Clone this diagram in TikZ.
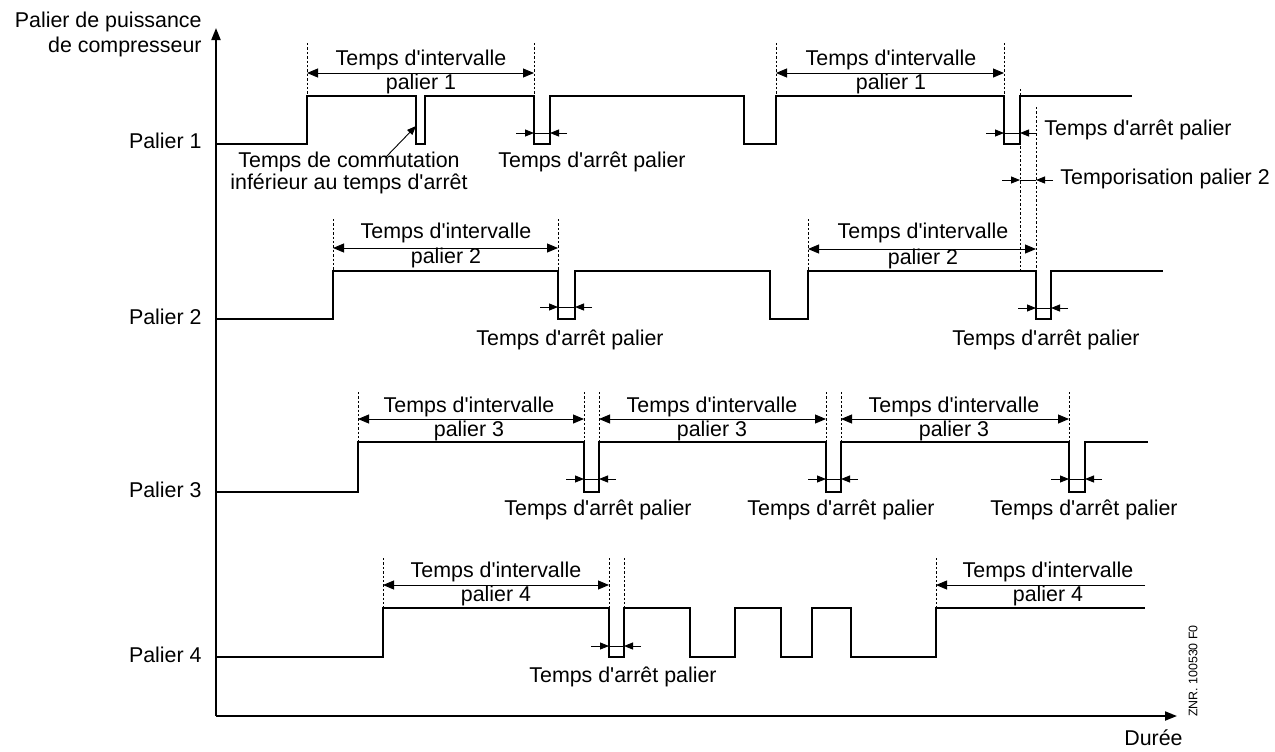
\documentclass[tikz,border=0pt]{standalone}
\usepackage{fontspec}
\setmainfont{Liberation Sans}
\usetikzlibrary{arrows.meta}
\newcommand\ap{\textquotesingle}
\newcommand\offmark[3]{%
  \draw[thin line] (#1,#3) -- (#2,#3);
  \draw[tipsm] ({#1-18},#3) -- (#1,#3);
  \draw[tipsm] ({#2+17},#3) -- (#2,#3);}
\begin{document}
\begin{tikzpicture}[x=0.5pt,y=-0.5pt,
  sig/.style={line width=1.1pt, line join=miter},
  axisln/.style={line width=1pt, -{Triangle[length=6pt,width=4.5pt]}},
  guide/.style={line width=0.3pt, dash pattern=on 1.2pt off 1pt},
  thin line/.style={line width=0.45pt},
  dim/.style={line width=0.45pt, {Triangle[length=5.5pt,width=4.5pt]}-{Triangle[length=5.5pt,width=4.5pt]}},
  dimone/.style={line width=0.45pt, -{Triangle[length=5.5pt,width=4.5pt]}},
  tipsm/.style={line width=0.45pt, -{Triangle[length=4.5pt,width=3.5pt]}},
  lbl/.style={font=\fontsize{10.7}{12.5}\selectfont, inner sep=0pt, align=center},
]
\fill[white] (0,0) rectangle (1275,751);
\path[use as bounding box] (0,0) rectangle (1275,751);

% axes
\coordinate (O) at (216,716);
\coordinate (ytop) at (216,28);
\coordinate (xend) at (1177,716);
\draw[axisln] (O) -- (ytop);
\draw[axisln] (O) -- (xend);
\node[lbl, align=right, anchor=east] (ylab) at (202,34) {Palier de puissance\\de compresseur};
\node[lbl, anchor=east] (xlab) at (1183,738) {Durée};
\node[font=\fontsize{6.2}{7}\selectfont, inner sep=0pt, rotate=90] (znr) at (1193,671) {ZNR. 100530 F0};

% level labels
\node[lbl, anchor=east] (p1) at (202,141) {Palier 1};
\node[lbl, anchor=east] (p2) at (202,317) {Palier 2};
\node[lbl, anchor=east] (p3) at (202,490) {Palier 3};
\node[lbl, anchor=east] (p4) at (202,655) {Palier 4};

% signals
\draw[sig] (216,144) -- (307,144) -- (307,96) -- (416,96) -- (416,144) -- (425,144) -- (425,96)
  -- (534,96) -- (534,144) -- (550,144) -- (550,96) -- (744,96) -- (744,144) -- (776,144)
  -- (776,96) -- (1004,96) -- (1004,144) -- (1020,144) -- (1020,96) -- (1132,96);
\draw[sig] (216,319) -- (333,319) -- (333,271) -- (558,271) -- (558,319) -- (575,319) -- (575,271)
  -- (770,271) -- (770,319) -- (808,319) -- (808,271) -- (1036,271) -- (1036,319) -- (1051,319)
  -- (1051,271) -- (1163,271);
\draw[sig] (216,492) -- (358,492) -- (358,442) -- (584,442) -- (584,492) -- (599,492) -- (599,442)
  -- (826,442) -- (826,492) -- (841,492) -- (841,442) -- (1069,442) -- (1069,492) -- (1085,492)
  -- (1085,442) -- (1148,442);
\draw[sig] (216,657) -- (383,657) -- (383,608) -- (609,608) -- (609,657) -- (624,657) -- (624,608)
  -- (690,608) -- (690,657) -- (735,657) -- (735,608) -- (781,608) -- (781,657) -- (812,657)
  -- (812,608) -- (851,608) -- (851,657) -- (936,657) -- (936,608) -- (1145,608);

% guide lines
\foreach \x in {307,534,776,1004} \draw[guide] (\x,43) -- (\x,96);
\draw[guide] (1020,89) -- (1020,271);
\draw[guide] (1036,107) -- (1036,271);
\foreach \x in {333,558,808} \draw[guide] (\x,219) -- (\x,271);
\foreach \x in {358,584,599,826,841,1069} \draw[guide] (\x,392) -- (\x,442);
\foreach \x in {383,609,624,936} \draw[guide] (\x,558) -- (\x,608);

% interval arrows
\draw[dim] (307,73) -- (534,73);
\draw[dim] (776,73) -- (1004,73);
\draw[dim] (333,248) -- (558,248);
\draw[dim] (808,249) -- (1036,249);
\draw[dim] (358,419) -- (584,419);
\draw[dim] (599,419) -- (826,419);
\draw[dim] (841,419) -- (1069,419);
\draw[dim] (383,585) -- (609,585);
\draw[dimone] (1145,585) -- (936,585);

% interval labels
\node[lbl] (i1a) at (421,60) {Temps d\ap intervalle};   \node[lbl] (j1a) at (421,84) {palier 1};
\node[lbl] (i1b) at (891,60) {Temps d\ap intervalle};   \node[lbl] (j1b) at (891,84) {palier 1};
\node[lbl] (i2a) at (446,233) {Temps d\ap intervalle};  \node[lbl] (j2a) at (446,258) {palier 2};
\node[lbl] (i2b) at (923,233) {Temps d\ap intervalle};  \node[lbl] (j2b) at (923,259) {palier 2};
\node[lbl] (i3a) at (469,407) {Temps d\ap intervalle};  \node[lbl] (j3a) at (469,431) {palier 3};
\node[lbl] (i3b) at (712,407) {Temps d\ap intervalle};  \node[lbl] (j3b) at (712,431) {palier 3};
\node[lbl] (i3c) at (954,407) {Temps d\ap intervalle};  \node[lbl] (j3c) at (954,431) {palier 3};
\node[lbl] (i4a) at (496,572) {Temps d\ap intervalle};  \node[lbl] (j4a) at (496,596) {palier 4};
\node[lbl] (i4b) at (1048,572) {Temps d\ap intervalle}; \node[lbl] (j4b) at (1048,596) {palier 4};

% off-time marks
\offmark{534}{550}{133}
\offmark{1004}{1020}{133}
\offmark{1020}{1036}{180}
\offmark{558}{575}{307}
\offmark{1036}{1051}{308}
\offmark{584}{599}{479}
\offmark{826}{841}{479}
\offmark{1069}{1085}{479}
\offmark{609}{624}{646}

% off-time labels
\node[lbl] (a1a) at (592,162) {Temps d\ap arrêt palier};
\node[lbl, anchor=west] (a1b) at (1044,130) {Temps d\ap arrêt palier};
\node[lbl, anchor=west] (tempo) at (1060,179) {Temporisation palier 2};
\node[lbl] (a2a) at (570,340) {Temps d\ap arrêt palier};
\node[lbl] (a2b) at (1046,340) {Temps d\ap arrêt palier};
\node[lbl] (a3a) at (598,510) {Temps d\ap arrêt palier};
\node[lbl] (a3b) at (841,510) {Temps d\ap arrêt palier};
\node[lbl] (a3c) at (1084,510) {Temps d\ap arrêt palier};
\node[lbl] (a4a) at (623,677) {Temps d\ap arrêt palier};

% commutation note
\node[lbl, font=\fontsize{10.7}{10.7}\selectfont] (comm) at (349,173) {Temps de commutation\\inférieur au temps d\ap arrêt};
\coordinate (commtail) at (386,157);
\coordinate (commhead) at (416,126);
\draw[tipsm] (commtail) -- (commhead);
\end{tikzpicture}
\end{document}
